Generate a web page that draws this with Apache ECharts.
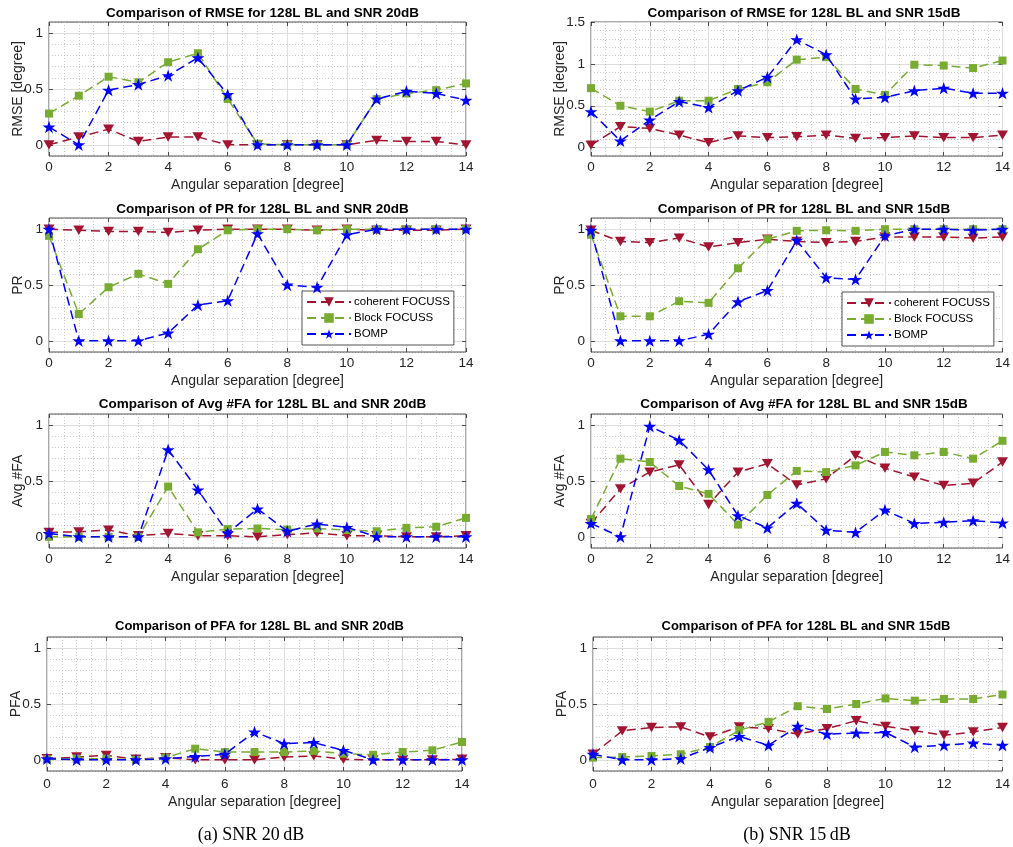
<!DOCTYPE html>
<html>
<head>
<meta charset="utf-8">
<title>Comparison of RMSE, PR, Avg #FA and PFA</title>
<script src="https://cdn.jsdelivr.net/npm/echarts@6.0.0/dist/echarts.min.js"></script>
<style>
    html, body { margin: 0; padding: 0; background: #fff; }
    #main { width: 1013px; height: 847px; }
</style>
</head>
<body>
<div id="main"></div>
<script>
// angular separation in degrees
const angles = [0, 1, 2, 3, 4, 5, 6, 7, 8, 9, 10, 11, 12, 13, 14];
const seriesNames = ['coherent FOCUSS', 'Block FOCUSS', 'BOMP'];

// RMSE [degree]
const rmse20Cf = [0.0, 0.07, 0.14, 0.03, 0.07, 0.07, 0.0, 0.0, 0.0, 0.0, 0.0, 0.04, 0.03, 0.03, 0.0];
const rmse20Bf = [0.28, 0.44, 0.61, 0.56, 0.74, 0.82, 0.41, 0.01, 0.0, 0.0, 0.0, 0.41, 0.46, 0.49, 0.55];
const rmse20Bomp = [0.16, 0.0, 0.49, 0.54, 0.62, 0.78, 0.45, 0.0, 0.0, 0.0, 0.0, 0.41, 0.48, 0.46, 0.40];
const rmse15Cf = [0.03, 0.25, 0.23, 0.15, 0.06, 0.14, 0.12, 0.13, 0.15, 0.11, 0.12, 0.14, 0.12, 0.12, 0.15];
const rmse15Bf = [0.71, 0.50, 0.43, 0.56, 0.56, 0.70, 0.78, 1.05, 1.08, 0.70, 0.63, 0.99, 0.98, 0.95, 1.04];
const rmse15Bomp = [0.43, 0.08, 0.33, 0.55, 0.48, 0.68, 0.84, 1.29, 1.11, 0.58, 0.60, 0.68, 0.71, 0.65, 0.65];

// PR
const pr20Cf = [1.0, 0.99, 0.98, 0.98, 0.97, 0.99, 1.0, 1.0, 1.0, 0.99, 1.0, 0.99, 0.99, 0.99, 1.0];
const pr20Bf = [0.94, 0.24, 0.48, 0.60, 0.51, 0.82, 0.99, 1.0, 1.0, 0.99, 1.0, 1.0, 1.0, 1.0, 1.0];
const pr20Bomp = [1.0, 0.0, 0.0, 0.0, 0.07, 0.32, 0.36, 0.96, 0.50, 0.48, 0.95, 1.0, 1.0, 1.0, 1.0];
const pr15Cf = [0.99, 0.89, 0.88, 0.92, 0.84, 0.88, 0.91, 0.89, 0.88, 0.89, 0.93, 0.93, 0.93, 0.92, 0.93];
const pr15Bf = [0.95, 0.22, 0.22, 0.355, 0.34, 0.65, 0.91, 0.985, 0.99, 0.985, 1.0, 1.0, 1.0, 1.0, 1.0];
const pr15Bomp = [0.99, 0.0, 0.0, 0.0, 0.06, 0.35, 0.45, 0.90, 0.565, 0.55, 0.94, 1.0, 1.0, 0.99, 1.0];

// Avg #FA
const fa20Cf = [0.04, 0.045, 0.06, 0.01, 0.03, 0.01, 0.01, 0.0, 0.02, 0.035, 0.01, 0.01, 0.0, 0.0, 0.01];
const fa20Bf = [0.0, 0.0, 0.0, 0.0, 0.45, 0.04, 0.07, 0.075, 0.065, 0.075, 0.06, 0.05, 0.08, 0.09, 0.17];
const fa20Bomp = [0.03, 0.0, 0.0, 0.0, 0.78, 0.42, 0.035, 0.25, 0.05, 0.115, 0.085, 0.0, 0.0, 0.0, 0.0];
const fa15Cf = [0.12, 0.43, 0.58, 0.645, 0.29, 0.58, 0.655, 0.465, 0.52, 0.73, 0.615, 0.535, 0.46, 0.48, 0.67];
const fa15Bf = [0.16, 0.70, 0.67, 0.455, 0.385, 0.11, 0.375, 0.59, 0.58, 0.64, 0.76, 0.73, 0.76, 0.70, 0.86];
const fa15Bomp = [0.12, 0.0, 0.99, 0.865, 0.60, 0.19, 0.08, 0.30, 0.06, 0.04, 0.24, 0.12, 0.13, 0.145, 0.125];

// PFA
const pfa20Cf = [0.01, 0.025, 0.04, 0.005, 0.02, 0.0, 0.0, 0.0, 0.025, 0.035, 0.005, 0.0, 0.0, 0.0, 0.005];
const pfa20Bf = [0.005, 0.01, 0.01, 0.0, 0.02, 0.10, 0.07, 0.07, 0.07, 0.08, 0.055, 0.045, 0.07, 0.085, 0.16];
const pfa20Bomp = [0.01, 0.0, 0.0, 0.0, 0.01, 0.03, 0.05, 0.25, 0.145, 0.155, 0.085, 0.0, 0.0, 0.0, 0.0];
const pfa15Cf = [0.05, 0.26, 0.29, 0.295, 0.205, 0.295, 0.28, 0.23, 0.28, 0.35, 0.30, 0.26, 0.22, 0.25, 0.29];
const pfa15Bf = [0.02, 0.025, 0.035, 0.05, 0.115, 0.265, 0.34, 0.48, 0.455, 0.50, 0.55, 0.53, 0.545, 0.545, 0.585];
const pfa15Bomp = [0.05, 0.0, 0.0, 0.01, 0.11, 0.21, 0.13, 0.30, 0.23, 0.24, 0.245, 0.115, 0.13, 0.15, 0.13];

const panelTitles = [
    'Comparison of RMSE for 128L BL and SNR 20dB', 'Comparison of RMSE for 128L BL and SNR 15dB',
    'Comparison of PR for 128L BL and SNR 20dB', 'Comparison of PR for 128L BL and SNR 15dB',
    'Comparison of Avg #FA for 128L BL and SNR 20dB', 'Comparison of Avg #FA for 128L BL and SNR 15dB',
    'Comparison of PFA for 128L BL and SNR 20dB', 'Comparison of PFA for 128L BL and SNR 15dB'
];
const yNames = ['RMSE [degree]', 'RMSE [degree]', 'PR', 'PR', 'Avg #FA', 'Avg #FA', 'PFA', 'PFA'];
const yMaxes = [1.1, 1.5, 1.1, 1.1, 1.1, 1.1, 1.1, 1.1];
const yTicks = [[0, 0.5, 1], [0, 0.5, 1, 1.5], [0, 0.5, 1], [0, 0.5, 1], [0, 0.5, 1], [0, 0.5, 1], [0, 0.5, 1], [0, 0.5, 1]];
const panelData = [
    [rmse20Cf, rmse20Bf, rmse20Bomp], [rmse15Cf, rmse15Bf, rmse15Bomp],
    [pr20Cf, pr20Bf, pr20Bomp], [pr15Cf, pr15Bf, pr15Bomp],
    [fa20Cf, fa20Bf, fa20Bomp], [fa15Cf, fa15Bf, fa15Bomp],
    [pfa20Cf, pfa20Bf, pfa20Bomp], [pfa15Cf, pfa15Bf, pfa15Bomp]
];
const captions = ['(a) SNR 20\u2009dB', '(b) SNR 15\u2009dB'];

// layout
const boxes = [
    {left: 49, top: 22, width: 417, height: 134}, {left: 591, top: 22, width: 416, height: 134},
    {left: 49, top: 218, width: 417, height: 134}, {left: 591, top: 218, width: 416, height: 134},
    {left: 49, top: 414, width: 417, height: 134}, {left: 591, top: 414, width: 416, height: 134},
    {left: 47, top: 637, width: 415, height: 134}, {left: 593, top: 637, width: 416, height: 134}
];
const titleTops = [1, 197, 392, 615];

const FONT = '"Liberation Sans", Arial, Helvetica, sans-serif';
const AXIS_C = '#262626';
const MAJOR_C = '#dedede';
const MINOR_C = '#bdbdbd';
const colors = ['#A2142F', '#77AC30', '#0000FF'];
const STAR = 'path://M100,0L122.45,69.1L195.1,69.1L136.3,111.8L158.8,180.9L100,138.2L41.2,180.9L63.7,111.8L4.9,69.1L77.55,69.1Z';
const TRI_DOWN = 'path://M0,0L20,0L10,17Z';
const symbols = [TRI_DOWN, 'rect', STAR];
const symbolSizes = [11, 8, 13];

const chart = echarts.init(document.getElementById('main'));

const option = {
    animation: false,
    backgroundColor: '#fff',
    textStyle: {fontFamily: FONT},
    title: [],
    grid: [],
    xAxis: [],
    yAxis: [],
    legend: [],
    series: []
};

panelTitles.forEach(function (title, k) {
    const box = boxes[k];
    const row = Math.floor(k / 2);
    const bottomRow = row === 3;

    option.grid.push(Object.assign({
        show: true,
        borderColor: AXIS_C,
        borderWidth: 0.8,
        backgroundColor: 'transparent'
    }, box));

    option.title.push({
        text: title,
        left: box.left + box.width / 2,
        top: titleTops[row],
        textAlign: 'center',
        textStyle: {fontFamily: FONT, fontSize: bottomRow ? 13 : 13.5, fontWeight: 'bold', color: '#000'}
    });

    // bottom x axis with labels, major + minor grid
    option.xAxis.push({
        type: 'value', gridIndex: k, min: 0, max: 14, interval: 2, position: 'bottom',
        name: 'Angular separation [degree]', nameLocation: 'middle', nameGap: bottomRow ? 24 : 22,
        nameTextStyle: {fontFamily: FONT, fontSize: 14, color: AXIS_C},
        axisLine: {show: false, onZero: false},
        axisTick: {show: true, inside: true, length: 4, lineStyle: {color: AXIS_C, width: 0.8}},
        axisLabel: {fontFamily: FONT, fontSize: 13.5, color: AXIS_C, margin: bottomRow ? 6 : 4},
        splitLine: {show: true, lineStyle: {color: MAJOR_C, width: 1}},
        minorTick: {show: false, splitNumber: 4},
        minorSplitLine: {show: true, lineStyle: {color: MINOR_C, width: 0.8, type: [1, 2]}}
    });
    // top x axis, ticks only
    option.xAxis.push({
        type: 'value', gridIndex: k, min: 0, max: 14, interval: 2, position: 'top',
        axisLine: {show: false, onZero: false},
        axisTick: {show: true, inside: true, length: 4, lineStyle: {color: AXIS_C, width: 0.8}},
        axisLabel: {show: false},
        splitLine: {show: false}
    });

    // left y axis: labels, ticks, major grid
    option.yAxis.push({
        type: 'value', gridIndex: k, min: -0.1, max: yMaxes[k], interval: 0.1, position: 'left',
        name: yNames[k], nameLocation: 'middle', nameGap: 24, nameMoveOverlap: false,
        nameTextStyle: {fontFamily: FONT, fontSize: 14, color: AXIS_C},
        axisLine: {show: false, onZero: false},
        axisTick: {show: true, inside: true, length: 4, customValues: yTicks[k], lineStyle: {color: AXIS_C, width: 0.8}},
        axisLabel: {fontFamily: FONT, fontSize: 13.5, color: AXIS_C, margin: 6, customValues: yTicks[k]},
        splitLine: {show: true, lineStyle: {color: MAJOR_C, width: 1}}
    });
    // minor y grid every 0.1
    option.yAxis.push({
        type: 'value', gridIndex: k, min: -0.1, max: yMaxes[k], interval: 0.1, position: 'left', z: -1,
        axisLine: {show: false, onZero: false},
        axisTick: {show: false},
        axisLabel: {show: false},
        splitLine: {show: true, lineStyle: {color: MINOR_C, width: 0.8, type: [1, 2]}}
    });
    // right y axis, ticks only
    option.yAxis.push({
        type: 'value', gridIndex: k, min: -0.1, max: yMaxes[k], interval: 0.1, position: 'right',
        axisLine: {show: false, onZero: false},
        axisTick: {show: true, inside: true, length: 4, customValues: yTicks[k], lineStyle: {color: AXIS_C, width: 0.8}},
        axisLabel: {show: false},
        splitLine: {show: false}
    });

    panelData[k].forEach(function (vals, s) {
        option.series.push({
            type: 'line',
            name: seriesNames[s],
            xAxisIndex: 2 * k,
            yAxisIndex: 3 * k,
            data: angles.map(function (a, i) { return [a, vals[i]]; }),
            symbol: symbols[s],
            symbolSize: symbolSizes[s],
            symbolKeepAspect: true,
            showAllSymbol: true,
            itemStyle: {color: colors[s], borderWidth: 0},
            lineStyle: {color: colors[s], width: 1.5, type: [9, 5]},
            emphasis: {disabled: true},
            silent: true,
            z: 3 + s
        });
    });
});

// legends inside the PR panels
[{left: 302, top: 291}, {left: 842, top: 292}].forEach(function (pos) {
    option.legend.push({
        data: seriesNames,
        left: pos.left,
        top: pos.top,
        orient: 'vertical',
        selectedMode: false,
        itemWidth: 44,
        itemHeight: 12,
        itemGap: 4,
        padding: [5, 4, 5, 4],
        backgroundColor: '#fff',
        borderColor: AXIS_C,
        borderWidth: 0.8,
        borderRadius: 0,
        textStyle: {fontFamily: FONT, fontSize: 11.5, color: '#000', padding: [0, 0, 0, -2]}
    });
});

// sub-figure captions
option.title.push({
    text: captions[0], left: 246, top: 821, textAlign: 'center',
    textStyle: {fontFamily: '"Liberation Serif", "DejaVu Serif", serif', fontSize: 18, fontWeight: 'normal', color: '#000'}
});
option.title.push({
    text: captions[1], left: 792, top: 821, textAlign: 'center',
    textStyle: {fontFamily: '"Liberation Serif", "DejaVu Serif", serif', fontSize: 18, fontWeight: 'normal', color: '#000'}
});

chart.setOption(option);
</script>
</body>
</html>
